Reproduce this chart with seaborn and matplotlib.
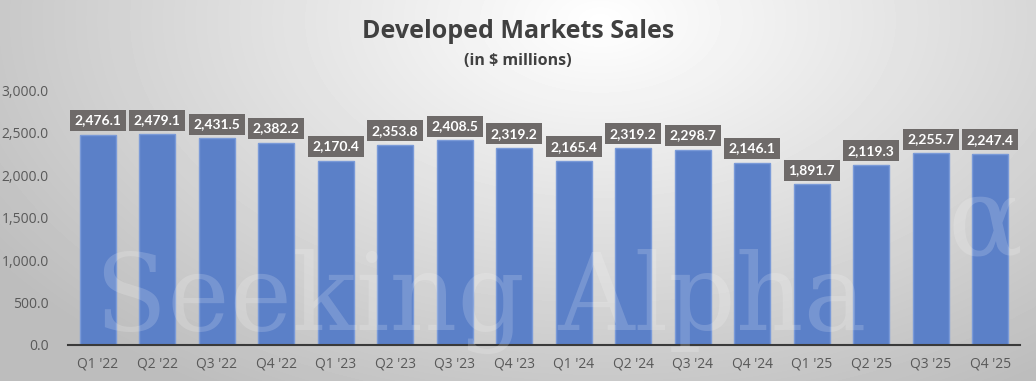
import numpy as np
import pandas as pd
import matplotlib.pyplot as plt
import seaborn as sns

quarters = ["Q1 '22", "Q2 '22", "Q3 '22", "Q4 '22",
            "Q1 '23", "Q2 '23", "Q3 '23", "Q4 '23",
            "Q1 '24", "Q2 '24", "Q3 '24", "Q4 '24",
            "Q1 '25", "Q2 '25", "Q3 '25", "Q4 '25"]
sales = [2476.1, 2479.1, 2431.5, 2382.2,
         2170.4, 2353.8, 2408.5, 2319.2,
         2165.4, 2319.2, 2298.7, 2146.1,
         1891.7, 2119.3, 2255.7, 2247.4]
y_ticks = [0, 500, 1000, 1500, 2000, 2500, 3000]

df = pd.DataFrame({'quarter': quarters, 'sales': sales})

sns.set_style('white')
plt.rcParams['font.family'] = ['Open Sans', 'DejaVu Sans']

fig = plt.figure(figsize=(10.36, 3.81), dpi=100)

# radial gray background
bg = fig.add_axes([0, 0, 1, 1], zorder=-10)
yy, xx = np.mgrid[0:381, 0:1036]
r = np.sqrt(((xx - 600) / 700.0) ** 2 + ((yy - 20) / 420.0) ** 2)
shade = np.clip(1.0 - 0.25 * r, 0.74, 1.0)
bg.imshow(shade, cmap='gray', vmin=0, vmax=1, aspect='auto')
bg.axis('off')

ax = fig.add_axes([68 / 1036, 36 / 381, 952 / 1036, 255 / 381])
ax.patch.set_alpha(0)
sns.barplot(data=df, x='quarter', y='sales', color='#5b80c8', width=0.6,
            edgecolor='#7a9ad8', linewidth=1, saturation=1, ax=ax, zorder=2)

ax.set_xlim(-0.5, 15.5)
ax.set_ylim(0, 3000)
ax.set_yticks(y_ticks)
ax.set_yticklabels([f'{v:,.1f}' for v in y_ticks])
ax.set_xlabel('')
ax.set_ylabel('')
ax.tick_params(axis='both', length=0, labelsize=10, colors='#595959')
ax.tick_params(axis='x', pad=8)
ax.tick_params(axis='y', pad=14)
for s in ['top', 'right', 'left']:
    ax.spines[s].set_visible(False)
ax.spines['bottom'].set_color('#3a3a3a')
ax.spines['bottom'].set_linewidth(1.5)

for i, v in enumerate(sales):
    ax.text(i, v + 95, f'{v:,.1f}', ha='center', va='bottom', color='white',
            fontsize=10, fontweight='bold', zorder=5, family='Lato',
            bbox=dict(boxstyle='square,pad=0.32', fc='#6e6a69', ec='none'))

# watermark
fig.text(0.092, 0.135, 'Seeking Alpha', fontsize=76, family='DejaVu Serif',
         color='white', alpha=0.17, zorder=10)
fig.text(0.915, 0.33, 'α', fontsize=80, family='DejaVu Serif',
         color='white', alpha=0.17, zorder=10)

fig.text(0.5, 0.918, 'Developed Markets Sales', ha='center', va='center',
         fontsize=18, fontweight='bold', color='#404040')
fig.text(0.5, 0.84, '(in $ millions)', ha='center', va='center',
         fontsize=11.5, fontweight='bold', color='#404040')

fig.savefig('out.png', dpi=100)
